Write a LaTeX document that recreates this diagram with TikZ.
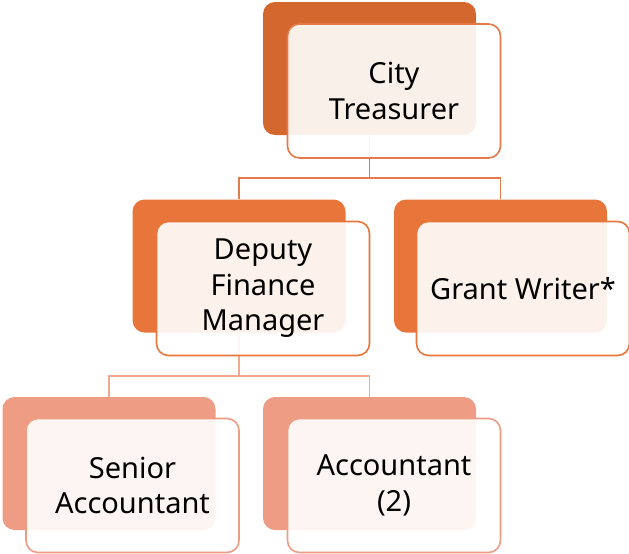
\documentclass[tikz,border=0pt]{standalone}
\usepackage{fontspec}
\setmainfont{Noto Sans}
\definecolor{lone}{HTML}{D4672E}
\definecolor{ltwo}{HTML}{E8763A}
\definecolor{lthree}{HTML}{EE9C84}
\definecolor{cone}{HTML}{E47A48}
\definecolor{ctwo}{HTML}{F0A890}
\begin{document}
\begin{tikzpicture}[x=1pt,y=-1pt,
 back/.style={rounded corners=12pt, minimum width=213pt, minimum height=133pt, inner sep=0pt, fill=#1},
 front/.style={rounded corners=12pt, minimum width=213pt, minimum height=134pt, inner sep=0pt, draw=#1, line width=1.6pt, fill=white, fill opacity=0.9, text opacity=1, align=center, font=\fontsize{29}{35.5}\selectfont},
 conn/.style={draw=#1, line width=1.6pt}]
\useasboundingbox (0,0) rectangle (629,554);
% back boxes
\node[back=lone] (b1) at (369.5,68.5) {};
\node[back=ltwo] (b2) at (239,266) {};
\node[back=ltwo] (b3) at (500.5,266) {};
\node[back=lthree] (b4) at (109,463.5) {};
\node[back=lthree] (b5) at (369.5,463.5) {};
% connectors
\coordinate (j1) at (369.5,178);
\coordinate (j2) at (239,376);
\draw[conn=cone] (b1.south) -- (j1) -| (b2.north);
\draw[conn=cone] (j1) -| (b3.north);
\draw[conn=ctwo] (b2.south) -- (j2) -| (b4.north);
\draw[conn=ctwo] (j2) -| (b5.north);
% front boxes
\node[front=cone] (f1) at (394,91) {City\\Treasurer};
\node[front=ltwo] (f2) at (263,288.5) {Deputy\\Finance\\Manager};
\node[front=ltwo] (f3) at (523,288.5) {Grant Writer*};
\node[front=lthree] (f4) at (132.5,485.5) {Senior\\Accountant};
\node[front=lthree] (f5) at (394,485.5) {Accountant\\(2)};
\end{tikzpicture}
\end{document}
